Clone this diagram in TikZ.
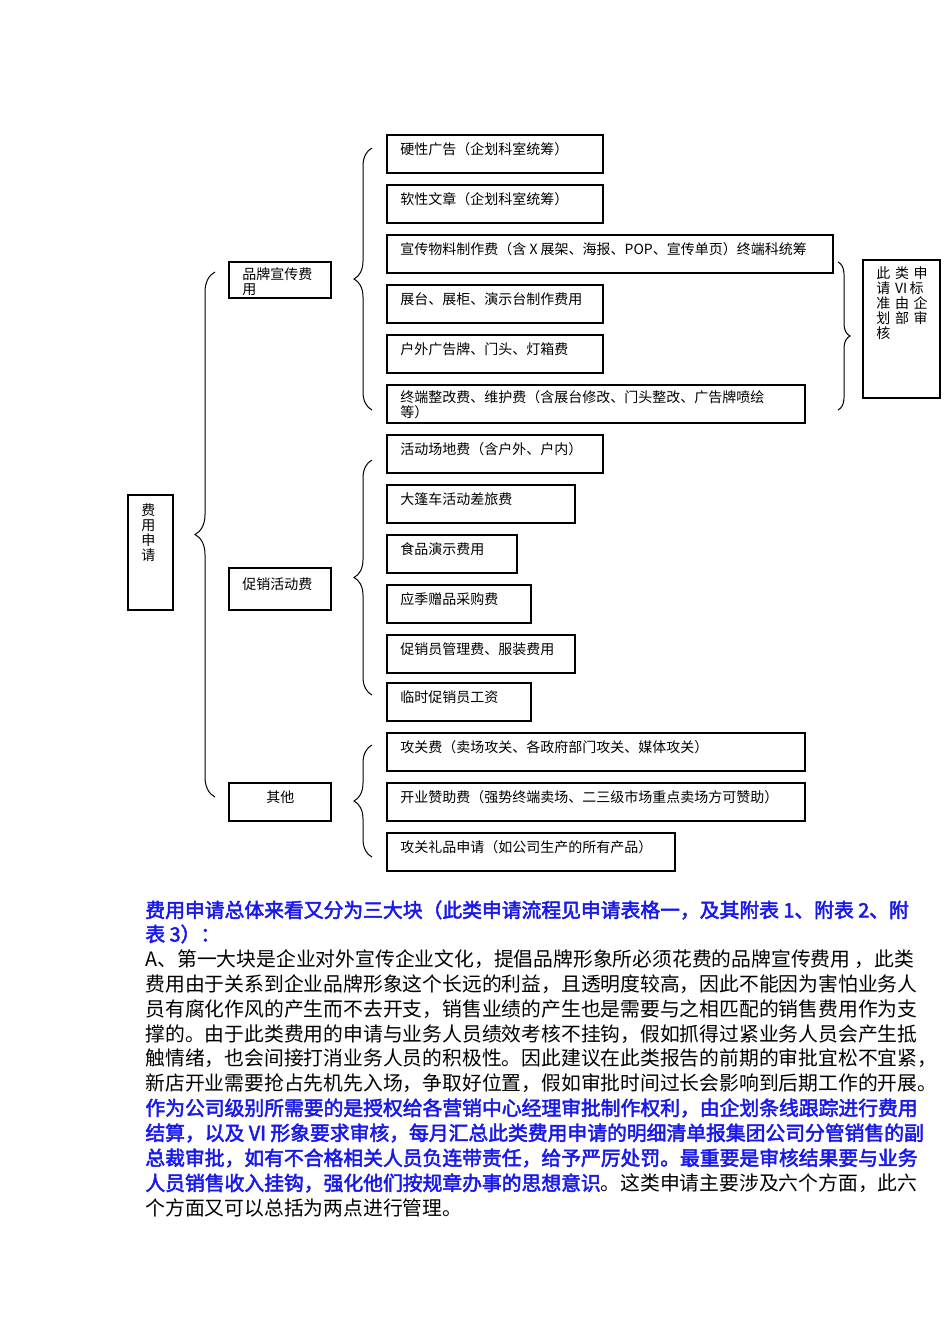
\documentclass[tikz,border=0pt]{standalone}
\usepackage{fontspec}
\setmainfont{Liberation Serif}
\newfontfamily\cjk{Noto Sans CJK SC}
\newfontfamily\cjkb[FakeBold=2.5]{Noto Sans CJK SC}
\usetikzlibrary{decorations.pathreplacing}
\definecolor{hblue}{RGB}{25,25,235}
\begin{document}
\begin{tikzpicture}[x=0.5pt,y=-0.5pt,
  bx/.style={draw,line width=0.6pt},
  lbl/.style={anchor=north west,inner sep=0pt,font=\cjk\fontsize{7}{7.5}\selectfont},
  brc/.style={decorate,decoration={brace,amplitude=9pt},line width=0.5pt},
  ln/.style={anchor=west,inner sep=0pt,font=\cjk\fontsize{9.9}{12}\selectfont},
  lnb/.style={ln,font=\cjkb\fontsize{9.9}{12}\selectfont,text=hblue}]
\useasboundingbox (0,0) rectangle (950,1344);
% root
\draw[bx] (128,495) rectangle (173,610);
\node[lbl,align=center,text width=8pt] (root) at (140,503) {费\\用\\申\\请};
% level 2
\draw[bx] (229,262) rectangle (331,298);
\node[lbl,text width=40pt,align=left] (a) at (242,267) {品牌宣传费\\用};
\draw[bx] (229,568) rectangle (331,610);
\node[lbl] (b) at (242,577) {促销活动费};
\draw[bx] (229,783) rectangle (331,821);
\node[lbl] (c) at (266,790) {其他};
% items
\foreach \y/\w/\t in {135/603/硬性广告（企划科室统筹）,185/603/软性文章（企划科室统筹）,
  235/833/{宣传物料制作费（含 X 展架、海报、POP、宣传单页）终端科统筹},
  285/603/展台、展柜、演示台制作费用,335/603/户外广告牌、门头、灯箱费,
  435/603/活动场地费（含户外、户内）,485/575/大篷车活动差旅费,535/517/食品演示费用,
  585/531/应季赠品采购费,635/575/促销员管理费、服装费用,683/531/临时促销员工资,
  733/805/攻关费（卖场攻关、各政府部门攻关、媒体攻关）,
  783/805/开业赞助费（强势终端卖场、二三级市场重点卖场方可赞助）,
  833/675/攻关礼品申请（如公司生产的所有产品）}{
  \draw[bx] (387,\y) rectangle (\w,\y+38);
  \node[lbl] at (400,\y+7) {\t};
}
\draw[bx] (387,385) rectangle (805,423);
\node[lbl,text width=200pt,align=left] at (400,390) {终端整改费、维护费（含展台修改、门头整改、广告牌喷绘\\等）};
% right box
\draw[bx] (863,260) rectangle (940,398);
\node[lbl,align=left] (r) at (876,266) {此\,\,类\,\,申\\请\,\,VI\,标\\准\,\,由\,\,企\\划\,\,部\,\,审\\核};
% braces
\draw[brc,decoration={amplitude=10pt}] (215,797) -- (215,272);
\draw[brc] (372,410) -- (372,148);
\draw[brc] (372,695) -- (372,460);
\draw[brc] (372,857) -- (372,745);
\draw[brc,decoration={amplitude=6pt}] (838,262) -- (838,410);
% paragraph
\node[lnb] at (145,910) {费用申请总体来看又分为三大块（此类申请流程见申请表格一，及其附表 1、附表 2、附};
\node[lnb] at (145,934) {表 3）：};
\node[ln] at (145,959) {A、第一大块是企业对外宣传企业文化，提倡品牌形象所必须花费的品牌宣传费用 ，此类};
\node[ln] at (145,984) {费用由于关系到企业品牌形象这个长远的利益，且透明度较高，因此不能因为害怕业务人};
\node[ln] at (145,1009) {员有腐化作风的产生而不去开支，销售业绩的产生也是需要与之相匹配的销售费用作为支};
\node[ln] at (145,1034) {撑的。由于此类费用的申请与业务人员绩效考核不挂钩，假如抓得过紧业务人员会产生抵};
\node[ln] at (145,1058) {触情绪，也会间接打消业务人员的积极性。因此建议在此类报告的前期的审批宜松不宜紧，};
\node[ln] at (145,1083) {新店开业需要抢占先机先入场，争取好位置，假如审批时间过长会影响到后期工作的开展。};
\node[lnb] at (145,1108) {作为公司级别所需要的是授权给各营销中心经理审批制作权利，由企划条线跟踪进行费用};
\node[lnb] at (145,1133) {结算，以及 VI 形象要求审核，每月汇总此类费用申请的明细清单报集团公司分管销售的副};
\node[lnb] at (145,1158) {总裁审批，如有不合格相关人员负连带责任，给予严厉处罚。最重要是审核结果要与业务};
\node[ln] at (145,1183) {{\cjkb\color{hblue}人员销售收入挂钩，强化他们按规章办事的思想意识}。这类申请主要涉及六个方面，此六};
\node[ln] at (145,1208) {个方面又可以总括为两点进行管理。};
\end{tikzpicture}
\end{document}
